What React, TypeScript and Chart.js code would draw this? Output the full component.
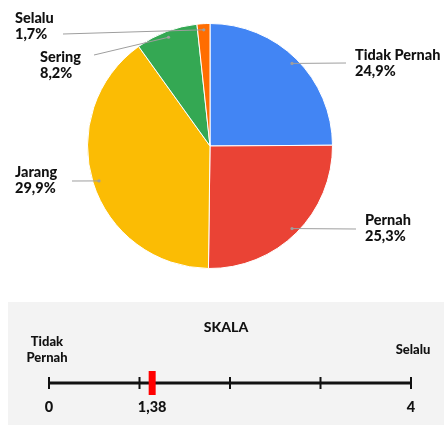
import React, { useEffect, useRef } from "react";
import { Chart, registerables } from "chart.js";

Chart.register(...registerables);

// ---- data ----
const categories = ["Tidak Pernah", "Pernah", "Jarang", "Sering", "Selalu"];
const sliceValues = [24.9, 25.3, 39.9, 8.2, 1.7];
const percentLabels = ["24,9%", "25,3%", "29,9%", "8,2%", "1,7%"];
const sliceColors = ["#4285F4", "#EA4335", "#FBBC04", "#34A853", "#FF6D01"];

const scaleTicks = [0, 1, 2, 3, 4];
const scaleEndLabels = ["Tidak\nPernah", "Selalu"];
const scaleTitle = "SKALA";
const markerValue = [1.14];
const markerLabel = "1,38";

// ---- layout (label text anchors, leader line ends) ----
const labelLayout = [
  { x: 355, y: 55, lx: 346, ly: 63 },
  { x: 365, y: 220, lx: 356, ly: 229 },
  { x: 15, y: 172, lx: 72, ly: 181 },
  { x: 40, y: 57, lx: 94, ly: 55 },
  { x: 15, y: 18, lx: 63, ly: 34 },
];

const FONT = "Lato, 'Open Sans', sans-serif";
const TEXT = "#111";
const W = "900";

const pieLabelPlugin = {
  id: "pieLabels",
  afterDatasetsDraw(chart: any) {
    const ctx = chart.ctx;
    const meta = chart.getDatasetMeta(0);
    ctx.save();
    meta.data.forEach((arc: any, i: number) => {
      const mid = (arc.startAngle + arc.endAngle) / 2;
      const r = arc.outerRadius * 0.95;
      const px = arc.x + Math.cos(mid) * r;
      const py = arc.y + Math.sin(mid) * r;
      const L = labelLayout[i];
      ctx.strokeStyle = "#9e9e9e";
      ctx.lineWidth = 1;
      ctx.beginPath();
      ctx.moveTo(L.lx, L.ly);
      ctx.lineTo(px, py);
      ctx.stroke();
      ctx.fillStyle = "#9e9e9e";
      ctx.beginPath();
      ctx.arc(px, py, 1.6, 0, Math.PI * 2);
      ctx.fill();
      ctx.fillStyle = TEXT;
      ctx.font = `${W} 14.5px ${FONT}`;
      ctx.textAlign = "left";
      ctx.textBaseline = "middle";
      ctx.fillText(categories[i], L.x, L.y);
      ctx.fillText(percentLabels[i], L.x, L.y + 16);
    });
    ctx.restore();
  },
};

const scalePlugin = {
  id: "scaleDraw",
  beforeDatasetsDraw(chart: any) {
    const ctx = chart.ctx;
    const xs = chart.scales.x;
    const ys = chart.scales.y;
    const y0 = ys.getPixelForValue(0);
    ctx.save();
    ctx.strokeStyle = "#111";
    ctx.lineWidth = 3;
    ctx.beginPath();
    ctx.moveTo(xs.getPixelForValue(scaleTicks[0]), y0);
    ctx.lineTo(xs.getPixelForValue(scaleTicks[scaleTicks.length - 1]), y0);
    ctx.stroke();
    ctx.lineWidth = 2;
    scaleTicks.forEach((t) => {
      const x = xs.getPixelForValue(t);
      ctx.beginPath();
      ctx.moveTo(x, y0 - 6);
      ctx.lineTo(x, y0 + 6);
      ctx.stroke();
    });
    ctx.restore();
  },
  afterDraw(chart: any) {
    const ctx = chart.ctx;
    const xs = chart.scales.x;
    const ys = chart.scales.y;
    const y0 = ys.getPixelForValue(0);
    const xMin = xs.getPixelForValue(scaleTicks[0]);
    const xMax = xs.getPixelForValue(scaleTicks[scaleTicks.length - 1]);
    ctx.save();
    ctx.fillStyle = TEXT;
    ctx.textBaseline = "middle";
    ctx.textAlign = "center";
    ctx.font = `${W} 14px ${FONT}`;
    ctx.fillText(scaleTitle, 218, 25);
    ctx.font = `${W} 13px ${FONT}`;
    const left = scaleEndLabels[0].split("\n");
    left.forEach((s, i) => ctx.fillText(s, xMin - 2, 40 + i * 16));
    ctx.fillText(scaleEndLabels[1], xMax + 2, 48);
    ctx.font = `${W} 14.5px ${FONT}`;
    ctx.fillText(String(scaleTicks[0]), xMin, y0 + 24);
    ctx.fillText(String(scaleTicks[scaleTicks.length - 1]), xMax, y0 + 24);
    ctx.fillText(markerLabel, xs.getPixelForValue(markerValue[0]), y0 + 24);
    ctx.restore();
  },
};

export default function App() {
  const pieRef = useRef<HTMLCanvasElement>(null);
  const scaleRef = useRef<HTMLCanvasElement>(null);

  useEffect(() => {
    const pie = new Chart(pieRef.current!, {
      type: "pie",
      data: {
        labels: categories,
        datasets: [
          {
            data: sliceValues,
            backgroundColor: sliceColors,
            borderColor: "#ffffff",
            borderWidth: 1,
          },
        ],
      },
      options: {
        animation: false,
        responsive: false,
        maintainAspectRatio: false,
        layout: { padding: { top: 23, bottom: 31, left: 87, right: 111 } },
        plugins: { legend: { display: false }, tooltip: { enabled: false } },
      },
      plugins: [pieLabelPlugin],
    });

    const scale = new Chart(scaleRef.current!, {
      type: "scatter",
      data: {
        datasets: [
          {
            data: markerValue.map((v) => ({ x: v, y: 0 })),
            pointStyle: "line",
            rotation: 90,
            radius: 12,
            borderWidth: 7,
            borderColor: "#ff0000",
            backgroundColor: "#ff0000",
          },
        ],
      },
      options: {
        animation: false,
        responsive: false,
        maintainAspectRatio: false,
        layout: { padding: { top: 61, bottom: 22, left: 41, right: 33 } },
        scales: {
          x: { type: "linear", min: 0, max: 4, display: false },
          y: { type: "linear", min: -1, max: 1, display: false },
        },
        plugins: { legend: { display: false }, tooltip: { enabled: false } },
      },
      plugins: [scalePlugin],
    });

    return () => {
      pie.destroy();
      scale.destroy();
    };
  }, []);

  return (
    <div style={{ position: "fixed", left: 0, top: 0, width: 444, height: 425, background: "#fff" }}>
      <canvas ref={pieRef} width={444} height={300} style={{ position: "absolute", left: 0, top: 0, width: 444, height: 300 }} />
      <canvas
        ref={scaleRef}
        width={436}
        height={123}
        style={{ position: "absolute", left: 8, top: 302, width: 436, height: 123, background: "#f3f3f3" }}
      />
    </div>
  );
}
